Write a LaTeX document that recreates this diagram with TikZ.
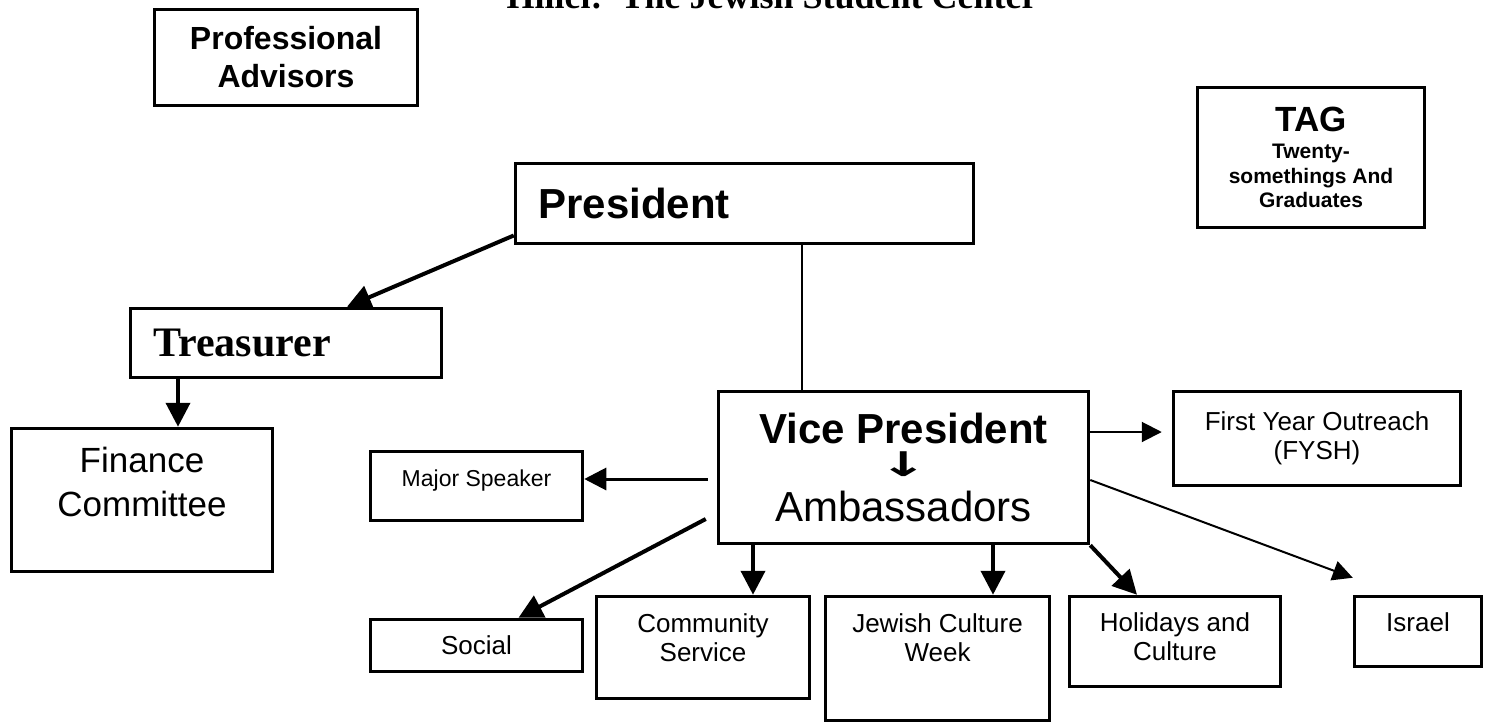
\documentclass[tikz,border=0pt]{standalone}
\usepackage{graphicx}
\usepackage{fontspec}
\setmainfont{Liberation Sans}
\newfontfamily\timesfont{Liberation Serif}
\newfontfamily\arrowfont{DejaVu Sans}
\usetikzlibrary{arrows.meta,positioning}

\begin{document}
\begin{tikzpicture}[x=1pt, y=-1pt,
    box/.style = {draw, line width=3.5pt, inner sep=0pt, align=center},
    small/.style = {font=\fontsize{26}{29}\selectfont},
    big/.style = {font=\fontsize{42}{40}\selectfont},
    heavy/.style = {line width=4pt, -{Triangle[length=24pt,width=24pt]}},
    light/.style = {line width=2pt, -{Triangle[length=20pt,width=20pt]}},
  ]

  \useasboundingbox (0,0) rectangle (1504,725);
  \clip (0,0) rectangle (1504,725);
  \fill[white] (0,0) rectangle (1504,725);

  \node[anchor=base west, font=\timesfont\bfseries\fontsize{36}{40}\selectfont] (title) at (503,9) {Hillel:\ \ The Jewish Student Center};

  \node[box, minimum width=263pt, minimum height=96pt, font=\bfseries\fontsize{32}{38}\selectfont] (adv) at (286,57.5) {Professional\\Advisors};
  \node[box, minimum width=227pt, minimum height=140pt, font=\bfseries\fontsize{21}{24.5}\selectfont] (tag) at (1311,157.5) {{\fontsize{35}{38}\selectfont TAG}\\[2.5pt]Twenty-\\somethings And\\Graduates};

  \node[box, minimum height=80pt, text width=412pt, inner xsep=23pt, align=left, font=\bfseries\fontsize{42}{48}\selectfont] (pres) at (744.5,203.5) {President};
  \node[box, minimum height=69pt, text width=265pt, inner xsep=23pt, align=left, font=\timesfont\bfseries\fontsize{42}{48}\selectfont] (treas) at (286,343) {Treasurer};
  \node[box, minimum width=261pt, minimum height=143pt, text depth=36pt, font=\fontsize{35}{44}\selectfont] (fin) at (142,500) {Finance\\Committee};

  \node[box, minimum width=370pt, minimum height=152pt, big] (vp) at (903.5,467.5) {\textbf{Vice President}\\[-7pt]{\arrowfont\bfseries\fontsize{34}{34}\selectfont\scalebox{1.7}[1]{↓}}\\[5pt]Ambassadors};

  \node[box, minimum width=287pt, minimum height=94pt, small] (fysh) at (1317,438.5) {First Year Outreach\\(FYSH)};
  \node[box, minimum width=212pt, minimum height=69pt, font=\fontsize{23}{27}\selectfont, text depth=14.8pt] (major) at (476.5,486) {Major Speaker};
  \node[box, minimum width=212pt, minimum height=52pt, small] (social) at (476.5,645.5) {Social};
  \node[box, minimum width=213pt, minimum height=102pt, small, text depth=20pt] (comm) at (703,647.5) {Community\\Service};
  \node[box, minimum width=224pt, minimum height=124pt, small, text depth=41pt] (jcw) at (937.5,658.5) {Jewish Culture\\Week};
  \node[box, minimum width=211pt, minimum height=90pt, small, text depth=10pt] (hol) at (1175,641.5) {Holidays and\\Culture};
  \node[box, minimum width=127pt, minimum height=70pt, small, text depth=18pt] (isr) at (1418,631.5) {Israel};

  \draw[heavy] ([yshift=-32pt]pres.west) -- ([xshift=61pt]treas.north);
  \draw[heavy] ([xshift=-108pt]treas.south) -- ([xshift=36pt]fin.north);
  \draw[line width=2pt] ([xshift=57.5pt]pres.south) -- ([xshift=-101.5pt]vp.north);

  \draw[line width=3pt, -{Triangle[length=22pt,width=22pt]}] ([xshift=-9pt,yshift=-11.5pt]vp.west) -- ([yshift=7pt]major.east);
  \draw[heavy] ([xshift=-11pt,yshift=-51.5pt]vp.west) -- ([xshift=42pt]social.north);
  \draw[heavy] ([xshift=-150.5pt]vp.south) -- ([xshift=50pt]comm.north);
  \draw[heavy] ([xshift=89.5pt]vp.south) -- ([xshift=55.5pt]jcw.north);
  \draw[heavy] (vp.south east) -- ([xshift=-38pt]hol.north);
  \draw[light] ([yshift=35.5pt]vp.east) -- ([xshift=-10pt,yshift=6.5pt]fysh.west);
  \draw[light] ([yshift=-12.5pt]vp.east) -- ([yshift=17pt]isr.north west);

\end{tikzpicture}
\end{document}
